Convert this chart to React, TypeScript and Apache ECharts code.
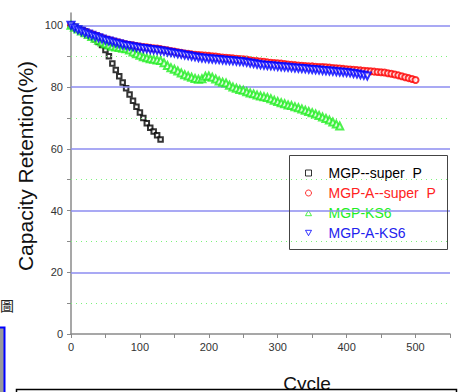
import React, { useEffect, useRef } from "react";
import * as echarts from "echarts";

// Sampling step (cycles) of the values
const CYCLE_STEP = 5;

const seriesNames = ["MGP--super  P", "MGP-A--super  P", "MGP-KS6", "MGP-A-KS6"];

// MGP--super P : cycles 0..130
const superPValues = [
  100, 99.5, 99, 98.6, 98, 97.3, 96.3, 95.5, 94.6, 93.6, 92, 90, 87.6, 85.5, 83.5, 81.5, 79.6, 77.6, 75.6,
  73.6, 71.8, 70, 68.3, 66.8, 65.6, 64.4, 63,
];

// MGP-A--super P : cycles 0..500
const aSuperPValues = [
  100, 99.4, 98.9, 98.4, 98, 97.6, 97.2, 96.8, 96.4, 96, 95.6, 95.3, 95, 94.7, 94.4, 94.1, 93.9, 93.7, 93.5,
  93.3, 93.1, 93, 92.9, 92.7, 92.6, 92.5, 92.3, 92.1, 91.9, 91.7, 91.5, 91.3, 91.1, 90.9, 90.8, 90.6, 90.5,
  90.4, 90.3, 90.2, 90.1, 90, 89.9, 89.7, 89.6, 89.5, 89.4, 89.3, 89.2, 89.1, 89, 88.9, 88.7, 88.5, 88.4,
  88.3, 88.2, 88, 87.9, 87.8, 87.7, 87.6, 87.5, 87.3, 87.2, 87.1, 87, 86.9, 86.8, 86.7, 86.7, 86.6, 86.5,
  86.5, 86.4, 86.3, 86.2, 86.1, 86, 85.9, 85.8, 85.7, 85.6, 85.5, 85.4, 85.3, 85.2, 85.1, 85, 84.9, 84.8,
  84.7, 84.5, 84.3, 84.1, 83.8, 83.5, 83.2, 82.9, 82.6, 82.3,
];

// MGP-KS6 : cycles 0..390
const ks6Values = [
  100, 99.4, 98.8, 98.2, 97.6, 97, 96.4, 95.8, 95.2, 94.6, 94, 93.6, 93.2, 93, 92.8, 92.6, 92.4, 92, 91.4,
  90.8, 90.3, 89.8, 89.5, 89.2, 89, 88.8, 88.6, 87.9, 87, 86.3, 85.8, 85.2, 84.6, 84, 83.6, 83.2, 82.8,
  82.5, 82.7, 83.5, 83.6, 83.2, 82.6, 82, 81.6, 81.3, 80.6, 80, 79.6, 79.2, 79, 78.5, 78.1, 77.8, 77.4,
  77.1, 76.9, 76.6, 76.2, 75.7, 75.3, 74.9, 74.6, 74.2, 74, 73.6, 73.3, 72.9, 72.5, 72.1, 71.7, 71.3, 70.8,
  70.3, 69.8, 69.3, 68.7, 68, 67.4,
];

// MGP-A-KS6 : cycles 0..430
const aKs6Values = [
  100, 99.2, 98.6, 98.1, 97.6, 97.2, 96.8, 96.4, 96, 95.6, 95.2, 94.9, 94.6, 94.3, 94, 93.7, 93.5, 93.3,
  93.1, 92.9, 92.7, 92.5, 92.4, 92.2, 92.1, 91.9, 91.8, 91.6, 91.4, 91.2, 91, 90.8, 90.6, 90.4, 90.2, 90,
  89.8, 89.6, 89.4, 89.3, 89.2, 89.1, 89, 88.9, 88.8, 88.7, 88.6, 88.5, 88.4, 88.3, 88.2, 88, 87.8, 87.6,
  87.4, 87.2, 87.1, 87, 86.9, 86.8, 86.7, 86.6, 86.5, 86.4, 86.3, 86.2, 86.1, 86, 85.9, 85.8, 85.7, 85.6,
  85.5, 85.4, 85.3, 85.2, 85.1, 85, 84.9, 84.8, 84.7, 84.6, 84.4, 84.2, 84, 83.8, 83.6,
];

const xTickLabels = [0, 100, 200, 300, 400, 500];
const yTickLabels = [0, 20, 40, 60, 80, 100];
const yMinorTicks = [0, 10, 20, 30, 40, 50, 60, 70, 80, 90, 100];
const majorGridValues = [20, 40, 60, 80, 100];
const minorGridValues = [10, 30, 50, 70, 90];

const FONT = "'Liberation Sans', Arial, sans-serif";

const toPairs = (vals: number[]) => vals.map((v, i) => [i * CYCLE_STEP, v]);

export default function App() {
  const ref = useRef<HTMLDivElement>(null);

  useEffect(() => {
    if (!ref.current) return;
    const chart = echarts.init(ref.current, undefined, { renderer: "svg" });

    const markerColors = ["#000000", "#ff0000", "#22ee22", "#0000ff"];
    const textColors = ["#000000", "#ff2222", "#22ee22", "#2222ee"];

    const axisGray = "#8a8a8a";

    chart.setOption({
      animation: false,
      backgroundColor: "#ffffff",
      grid: { left: 71, right: 9, top: 13, bottom: 58, containLabel: false },
      xAxis: {
        type: "value",
        min: 0,
        max: 550,
        interval: 50,
        axisLine: { show: true, onZero: false, lineStyle: { color: axisGray, width: 1.5 } },
        axisTick: { show: true, inside: false, length: 4, lineStyle: { color: axisGray, width: 1 } },
        axisLabel: {
          customValues: xTickLabels,
          margin: 7,
          color: "#333",
          fontSize: 11,
          fontFamily: FONT,
        },
        splitLine: { show: false },
      },
      yAxis: {
        type: "value",
        min: 0,
        max: 104,
        axisLine: { show: true, onZero: false, lineStyle: { color: axisGray, width: 1.5 } },
        axisTick: { show: true, customValues: yMinorTicks, length: 4, lineStyle: { color: axisGray, width: 1 } },
        axisLabel: {
          customValues: yTickLabels,
          margin: 8,
          color: "#333",
          fontSize: 11,
          fontFamily: FONT,
        },
        splitLine: { show: false },
      },
      legend: {
        orient: "vertical",
        left: 300,
        top: 161,
        itemWidth: 6,
        itemHeight: 6,
        itemGap: 6,
        selectedMode: false,
        data: seriesNames.map((n, i) => ({
          name: n,
          icon:
            i === 0
              ? "rect"
              : i === 1
              ? "circle"
              : i === 2
              ? "path://M5,0L10,9L0,9Z"
              : "path://M0,0L10,0L5,9Z",
          itemStyle: { color: "#ffffff", borderColor: markerColors[i], borderWidth: 1 },
          textStyle: { color: textColors[i] },
        })),
        textStyle: { fontSize: 14, fontFamily: FONT, lineHeight: 14, padding: [0, 0, 0, 12] },
      },
      series: [
        {
          type: "line",
          data: [],
          silent: true,
          markLine: {
            silent: true,
            symbol: "none",
            label: { show: false },
            data: [
              ...majorGridValues.map((v) => ({
                yAxis: v,
                lineStyle: { color: "#8c8cf0", width: 1.5, type: "solid" },
              })),
              ...minorGridValues.map((v) => ({
                yAxis: v,
                lineStyle: { color: "#7cf27c", width: 1, type: [1, 4] },
              })),
            ],
          },
        },
        {
          name: seriesNames[0],
          type: "scatter",
          symbol: "emptyRect",
          symbolSize: 4.5,
          itemStyle: { color: markerColors[0], borderWidth: 1.3 },
          data: toPairs(superPValues),
          z: 3,
        },
        {
          name: seriesNames[1],
          type: "scatter",
          symbol: "emptyCircle",
          symbolSize: 6,
          itemStyle: { color: markerColors[1], borderWidth: 1.4 },
          data: toPairs(aSuperPValues),
          z: 4,
        },
        {
          name: seriesNames[2],
          type: "scatter",
          symbol: "emptyTriangle",
          symbolSize: 7,
          itemStyle: { color: markerColors[2], borderWidth: 1.4 },
          data: toPairs(ks6Values),
          z: 5,
        },
        {
          name: seriesNames[3],
          type: "scatter",
          symbol: "emptyTriangle",
          symbolRotate: 180,
          symbolSize: 7,
          itemStyle: { color: markerColors[3], borderWidth: 1.6 },
          data: toPairs(aKs6Values),
          z: 6,
        },
      ],
      graphic: [
        {
          type: "rect",
          shape: { x: 289.5, y: 155.5, width: 158, height: 94 },
          style: { fill: "none", stroke: "#444", lineWidth: 1 },
          z: 10,
        },
        {
          type: "text",
          x: 25,
          y: 166,
          rotation: Math.PI / 2,
          style: {
            text: "Capacity Retention(%)",
            fontSize: 21,
            fontFamily: FONT,
            fill: "#111",
            align: "center",
            verticalAlign: "middle",
          },
        },
        {
          type: "text",
          x: 307,
          y: 383,
          style: {
            text: "Cycle",
            fontSize: 19,
            fontFamily: FONT,
            fill: "#111",
            align: "center",
            verticalAlign: "middle",
          },
          z: 10,
        },
        {
          type: "rect",
          shape: { x: 16.5, y: 389.5, width: 440, height: 20 },
          style: { fill: "#ffffff", stroke: "#000", lineWidth: 1.5 },
          z: 20,
        },
        {
          type: "text",
          x: 0,
          y: 305,
          style: {
            text: "圖",
            fontSize: 14,
            fontFamily: "'Noto Sans CJK TC', sans-serif",
            fill: "#222",
            align: "left",
            verticalAlign: "middle",
          },
        },
        {
          type: "rect",
          shape: { x: -10, y: 327.5, width: 14.5, height: 70 },
          style: { fill: "#9a9a9a", stroke: "#0000ff", lineWidth: 2 },
        },
      ],
    });

    return () => chart.dispose();
  }, []);

  return (
    <div
      ref={ref}
      style={{ position: "fixed", left: 0, top: 0, width: 459, height: 392, background: "#fff" }}
    />
  );
}
